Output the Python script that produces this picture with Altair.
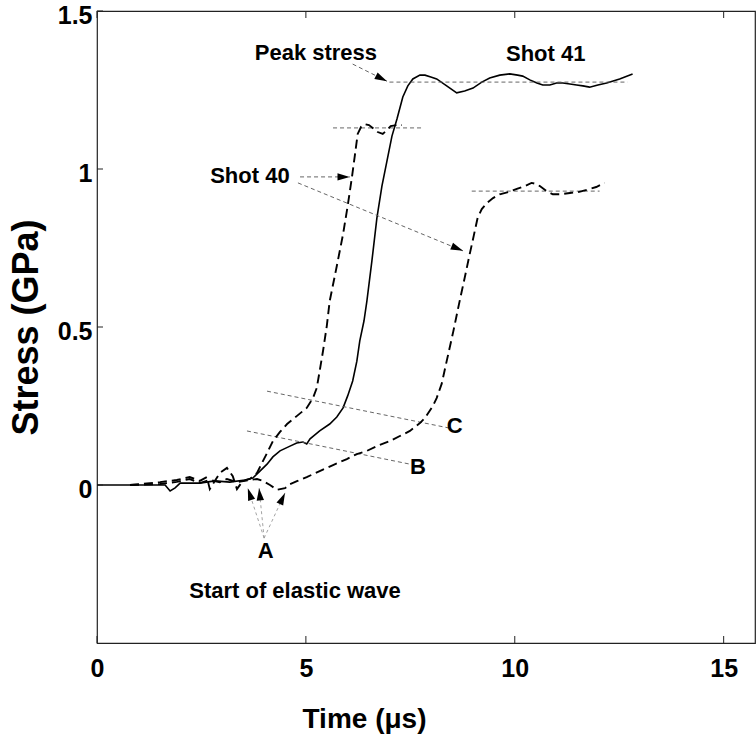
import math
import altair as alt
import pandas as pd

# ---------------- data ----------------
shot41_t = [0.00, 1.63, 1.75, 1.87, 1.99, 2.46, 2.82, 3.18, 3.54, 3.73, 3.90, 4.07, 4.21, 4.38,
            4.62, 4.78, 4.93, 5.02, 5.10, 5.33, 5.57, 5.74, 5.89, 6.00, 6.12, 6.22, 6.29, 6.39,
            6.46, 6.58, 6.70, 6.82, 6.94, 7.06, 7.18, 7.32, 7.44, 7.56, 7.73, 7.85, 7.99, 8.13,
            8.37, 8.61, 8.80, 9.00, 9.21, 9.40, 9.64, 9.88, 10.07, 10.19, 10.36, 10.53, 10.67,
            10.84, 11.00, 11.15, 11.32, 11.48, 11.63, 11.79, 11.99, 12.20, 12.51, 12.82]
shot41_s = [0.000, 0.000, -0.019, -0.009, 0.006, 0.006, 0.013, 0.009, 0.016, 0.022, 0.044, 0.066,
            0.089, 0.108, 0.123, 0.133, 0.136, 0.130, 0.146, 0.171, 0.193, 0.215, 0.244, 0.282,
            0.329, 0.392, 0.456, 0.519, 0.582, 0.709, 0.845, 0.946, 1.025, 1.104, 1.158, 1.228,
            1.263, 1.285, 1.297, 1.297, 1.291, 1.285, 1.263, 1.241, 1.247, 1.256, 1.275, 1.288,
            1.297, 1.301, 1.297, 1.294, 1.282, 1.272, 1.266, 1.266, 1.272, 1.272, 1.269, 1.266,
            1.263, 1.259, 1.266, 1.272, 1.285, 1.301]

shot40a_t = [0.79, 1.51, 1.91, 2.22, 2.46, 2.63, 2.70, 2.82, 2.94, 3.11, 3.25, 3.35, 3.49, 3.66,
             3.83, 3.95, 4.07, 4.21, 4.38, 4.55, 4.78, 5.02, 5.17, 5.26, 5.33, 5.41, 5.50, 5.57,
             5.74, 5.89, 6.00, 6.10, 6.17, 6.24, 6.32, 6.41, 6.51, 6.60, 6.72, 6.84, 6.94, 7.03,
             7.18, 7.30]
shot40a_s = [0.000, 0.009, 0.016, 0.025, 0.013, 0.025, -0.013, 0.013, 0.038, 0.054, 0.028, -0.013,
             0.013, 0.019, 0.038, 0.070, 0.101, 0.139, 0.168, 0.193, 0.218, 0.244, 0.275, 0.307,
             0.361, 0.424, 0.503, 0.582, 0.693, 0.794, 0.883, 0.972, 1.041, 1.111, 1.133, 1.142,
             1.139, 1.130, 1.117, 1.111, 1.123, 1.136, 1.139, 1.139]

shot40b_t = [0.79, 1.51, 1.91, 2.22, 2.46, 2.70, 2.94, 3.11, 3.35, 3.66, 3.83, 3.97, 4.14, 4.31,
             4.50, 4.62, 4.80, 5.02, 5.33, 5.65, 5.98, 6.22, 6.46, 6.77, 7.01, 7.25, 7.49, 7.73,
             7.85, 8.04, 8.13, 8.25, 8.37, 8.53, 8.68, 8.80, 8.92, 9.02, 9.11, 9.21, 9.33, 9.48,
             9.64, 9.85, 10.05, 10.24, 10.40, 10.50, 10.60, 10.76, 10.91, 11.10, 11.32, 11.52,
             11.72, 11.95, 12.15]
shot40b_s = [0.000, 0.003, 0.010, 0.019, 0.006, 0.016, 0.009, 0.019, 0.009, 0.016, 0.019, 0.013,
             0.000, -0.015, -0.010, 0.003, 0.013, 0.025, 0.044, 0.063, 0.082, 0.098, 0.108, 0.127,
             0.139, 0.155, 0.171, 0.196, 0.212, 0.250, 0.275, 0.320, 0.392, 0.487, 0.582, 0.655,
             0.730, 0.790, 0.845, 0.873, 0.892, 0.908, 0.920, 0.927, 0.937, 0.946, 0.956, 0.953,
             0.946, 0.930, 0.920, 0.920, 0.924, 0.927, 0.934, 0.943, 0.956]

# reference (thin dashed) lines: x0, y0, x1, y1
ref_x0 = [7.00, 5.65, 8.97, 4.07, 3.59]
ref_y0 = [1.275, 1.130, 0.930, 0.297, 0.171]
ref_x1 = [12.70, 7.78, 12.03, 8.44, 7.49]
ref_y1 = [1.275, 1.130, 0.930, 0.180, 0.066]

# annotation arrows (dashed line + arrow head at the end)
arr_x0 = [6.12, 4.86, 4.81]
arr_y0 = [1.332, 0.975, 0.956]
arr_x1 = [6.94, 6.05, 8.76]
arr_y1 = [1.278, 0.975, 0.741]

# "A" arrows
a_x0 = [4.00, 4.00, 4.00]
a_y0 = [-0.168, -0.168, -0.168]
a_x1 = [3.61, 3.88, 4.50]
a_y1 = [-0.010, -0.010, -0.025]

# labels
lab_text = ["Peak stress", "Shot 41", "Shot 40", "C", "B", "A", "Start of elastic wave"]
lab_x = [5.24, 10.74, 3.66, 8.56, 7.68, 4.04, 4.74]
lab_y = [1.367, 1.364, 0.978, 0.187, 0.057, -0.209, -0.335]

x_ticks = [0, 5, 10, 15]
y_ticks = [0, 0.5, 1, 1.5]

# ---------------- layout ----------------
W, H = 658, 632
XMAX = 15.75
YMIN, YMAX = -0.5, 1.5
ppx = W / XMAX
ppy = H / (YMAX - YMIN)

FONT = "Liberation Sans, Arial, Helvetica, sans-serif"
ARROW = "M1,0L-1,-0.6L-1,0.6Z"
ARROW_SIZE = 150
R = math.sqrt(ARROW_SIZE) / 2

xs = alt.Scale(domain=[0, XMAX], nice=False, zero=False)
ys = alt.Scale(domain=[YMIN, YMAX], nice=False, zero=False)

AX = alt.Axis(values=x_ticks, format="~g", tickSize=0, domain=False, grid=False,
              labelFont=FONT, labelFontSize=25, labelFontWeight="bold",
              labelColor="black", labelPadding=13, labelFlush=False,
              titleFont=FONT, titleFontSize=28, titleFontWeight="bold",
              titleColor="black", titlePadding=24, titleX=267, titleAlign="center")
AY = alt.Axis(values=y_ticks, format="~g", tickSize=0, domain=False, grid=False,
              labelFont=FONT, labelFontSize=25, labelFontWeight="bold",
              labelColor="black", labelPadding=5, labelOffset=4, labelFlush=False,
              titleFont=FONT, titleFontSize=36, titleFontWeight="bold",
              titleColor="black", titlePadding=12)
XT = "Time (μs)"
YT = "Stress (GPa)"


def X(f):
    return alt.X(f, scale=xs, axis=AX, title=XT)


def Y(f):
    return alt.Y(f, scale=ys, axis=AY, title=YT)


def heads(x0, y0, x1, y1, back=R):
    rows = []
    for a, b, c, d in zip(x0, y0, x1, y1):
        dxp = (c - a) * ppx
        dyp = -(d - b) * ppy
        L = math.hypot(dxp, dyp)
        ang = math.degrees(math.atan2(dyp, dxp)) % 360
        cx = c - (dxp / L) * back / ppx
        cy = d + (dyp / L) * back / ppy
        rows.append({"x": cx, "y": cy, "angle": ang})
    return pd.DataFrame(rows)


df41 = pd.DataFrame({"t": shot41_t, "s": shot41_s})
df40a = pd.DataFrame({"t": shot40a_t, "s": shot40a_s})
df40b = pd.DataFrame({"t": shot40b_t, "s": shot40b_s})
dref = pd.DataFrame({"x0": ref_x0, "y0": ref_y0, "x1": ref_x1, "y1": ref_y1})
darr = pd.DataFrame({"x0": arr_x0, "y0": arr_y0, "x1": arr_x1, "y1": arr_y1})
da = pd.DataFrame({"x0": a_x0, "y0": a_y0, "x1": a_x1, "y1": a_y1})
dlab = pd.DataFrame({"x": lab_x, "y": lab_y, "text": lab_text})
dxt = pd.DataFrame({"v": x_ticks})
dyt = pd.DataFrame({"v": y_ticks})

solid = alt.Chart(df41).mark_line(color="black", strokeWidth=1.6).encode(
    x=X("t:Q"), y=Y("s:Q"), order="t:Q")
dash_a = alt.Chart(df40a).mark_line(color="black", strokeWidth=1.9, strokeDash=[9, 5]).encode(
    x=X("t:Q"), y=Y("s:Q"), order="t:Q")
dash_b = alt.Chart(df40b).mark_line(color="black", strokeWidth=1.9, strokeDash=[9, 5]).encode(
    x=X("t:Q"), y=Y("s:Q"), order="t:Q")

refs = alt.Chart(dref).mark_rule(color="#555", strokeWidth=0.9, strokeDash=[4, 3]).encode(
    x=X("x0:Q"), y=Y("y0:Q"), x2="x1:Q", y2="y1:Q")
arrows = alt.Chart(darr).mark_rule(color="#555", strokeWidth=0.9, strokeDash=[4, 3]).encode(
    x=X("x0:Q"), y=Y("y0:Q"), x2="x1:Q", y2="y1:Q")
a_lines = alt.Chart(da).mark_rule(color="#999", strokeWidth=0.9, strokeDash=[3, 3]).encode(
    x=X("x0:Q"), y=Y("y0:Q"), x2="x1:Q", y2="y1:Q")

hd = pd.concat([heads(arr_x0, arr_y0, arr_x1, arr_y1), heads(a_x0, a_y0, a_x1, a_y1)],
               ignore_index=True)
arrowheads = alt.Chart(hd).mark_point(shape=ARROW, filled=True, size=ARROW_SIZE,
                                      color="black", opacity=1, strokeWidth=0).encode(
    x=X("x:Q"), y=Y("y:Q"), angle=alt.Angle("angle:Q", scale=None))

labels = alt.Chart(dlab).mark_text(font=FONT, fontSize=22, fontWeight="bold",
                                   color="black", align="center", baseline="middle").encode(
    x=X("x:Q"), y=Y("y:Q"), text="text:N")

xt_bot = alt.Chart(dxt).mark_rule(color="#222", strokeWidth=1).encode(
    x=X("v:Q"), y=alt.value(H), y2=alt.value(H - 7))
xt_top = alt.Chart(dxt).mark_rule(color="#222", strokeWidth=1).encode(
    x=X("v:Q"), y=alt.value(0), y2=alt.value(7))
yt = alt.Chart(dyt).mark_rule(color="#222", strokeWidth=1).encode(
    y=Y("v:Q"), x=alt.value(0), x2=alt.value(6))

chart = alt.layer(
    solid, refs, arrows, a_lines, dash_a, dash_b, arrowheads, labels, xt_bot, xt_top, yt
).properties(
    width=W, height=H,
    autosize=alt.AutoSizeParams(type="none"),
    padding={"left": 97, "top": 11, "right": 1, "bottom": 111},
    background="white",
).configure_view(
    stroke="#222", strokeWidth=1.2
)

chart.save("out.html", embed_options={"renderer": "svg", "actions": False})
